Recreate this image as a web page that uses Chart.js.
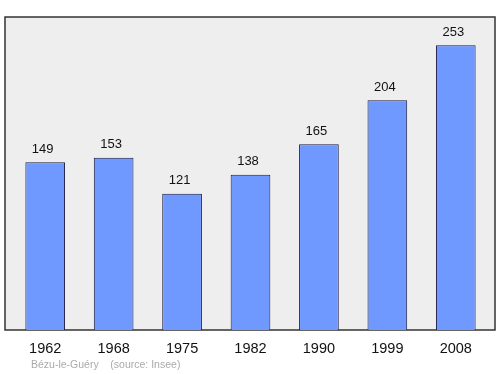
<!DOCTYPE html>
<html><head><meta charset="utf-8">
<script src="https://cdn.jsdelivr.net/npm/chart.js@4/dist/chart.umd.min.js"></script>
<style>html,body{margin:0;padding:0;background:#fff}#wrap{width:500px;height:374px}</style>
</head><body><div id="wrap"><canvas id="c" width="500" height="374"></canvas></div>
<script>
const years = ["1962","1968","1975","1982","1990","1999","2008"];
const population = [149,153,121,138,165,204,253];
const footerText = "Bézu-le-Guéry    (source: Insee)";

const framePlugin = {
  id:'frame',
  beforeDraw(chart){
    const {ctx, chartArea:a} = chart;
    ctx.save();
    ctx.fillStyle = '#eeeeee';
    ctx.fillRect(a.left-6, a.top, a.right-a.left+11, a.bottom-a.top);
    ctx.strokeStyle = '#333333';
    ctx.lineWidth = 1.5;
    ctx.strokeRect(a.left-6, a.top, a.right-a.left+11, a.bottom-a.top);
    ctx.restore();
  },
  afterDatasetsDraw(chart){
    const {ctx} = chart;
    const meta = chart.getDatasetMeta(0);
    ctx.save();
    ctx.fillStyle = '#111';
    ctx.font = '13px "Liberation Sans", Arial, sans-serif';
    ctx.textAlign = 'center';
    ctx.textBaseline = 'middle';
    meta.data.forEach((bar,i)=>{
      ctx.fillText(String(population[i]), bar.x - 2.5, bar.y - 13);
    });
    ctx.fillStyle = '#aaaaaa';
    ctx.font = '10.5px "Liberation Sans", Arial, sans-serif';
    ctx.textAlign = 'left';
    ctx.fillText(footerText, 31, 365);
    ctx.restore();
  }
};

new Chart(document.getElementById('c'), {
  type:'bar',
  data:{labels:years, datasets:[{data:population, backgroundColor:'#7099ff', borderColor:'#1a1a40', borderWidth:1, borderSkipped:'bottom', barPercentage:0.58, categoryPercentage:1}]},
  options:{
    responsive:false, animation:false,
    layout:{padding:{left:11,right:10,top:17,bottom:0}},
    plugins:{legend:{display:false}, tooltip:{enabled:false}},
    scales:{
      y:{display:false, min:0, max:278},
      x:{grid:{display:false, drawTicks:false}, border:{display:false},
         ticks:{color:'#111', padding:10, font:{family:'"Liberation Sans", Arial, sans-serif', size:14.5}},
         afterFit(s){ s.height = 44; }}
    }
  },
  plugins:[framePlugin]
});
</script></body></html>
